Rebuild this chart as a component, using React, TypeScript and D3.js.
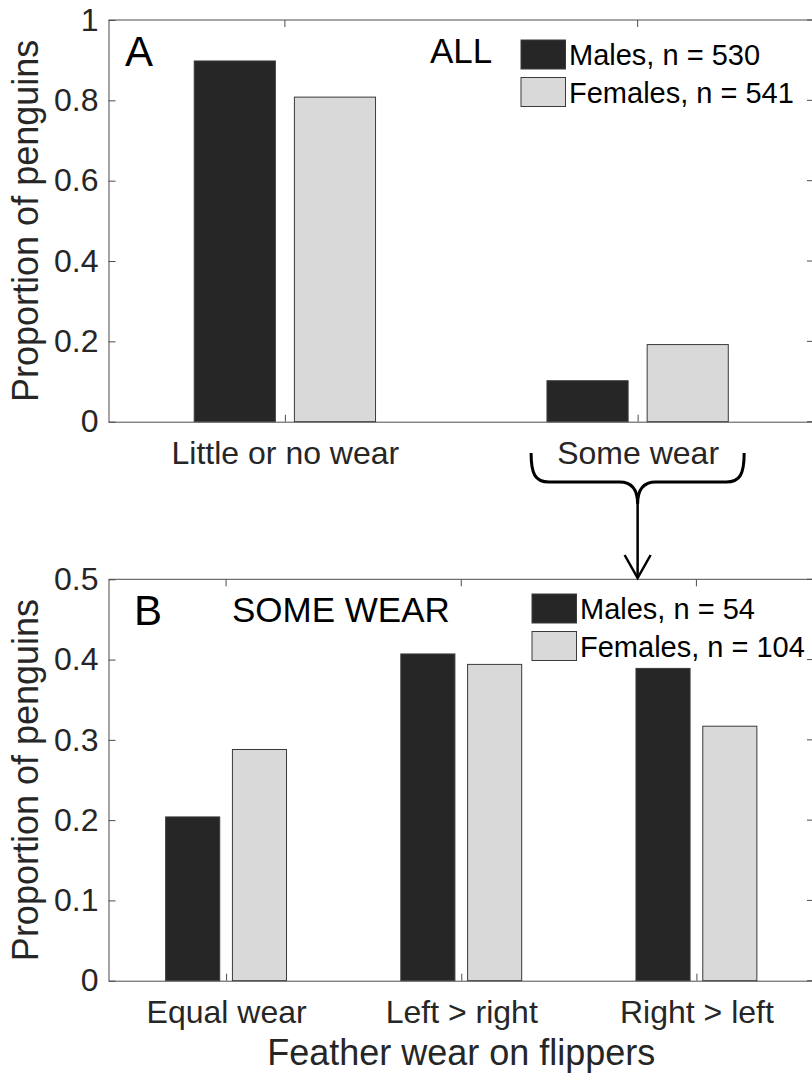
import React, { useEffect, useRef } from "react";
import * as d3 from "d3";

// panel A: all penguins
const categoriesA = ["Little or no wear", "Some wear"];
const malesA = [0.898, 0.102];
const femalesA = [0.808, 0.192];
const ticksA = [0, 0.2, 0.4, 0.6, 0.8, 1];
const legendA = ["Males, n = 530", "Females, n = 541"];

// panel B: only the ones with some wear
const categoriesB = ["Equal wear", "Left > right", "Right > left"];
const malesB = [0.204, 0.407, 0.389];
const femalesB = [0.288, 0.394, 0.317];
const ticksB = [0, 0.1, 0.2, 0.3, 0.4, 0.5];
const legendB = ["Males, n = 54", "Females, n = 104"];

const FONT = "'Liberation Sans', Arial, Helvetica, sans-serif";
const TEXT = "#262626";
const AXIS = "#4d4d4d";
const DARK = "#262626";
const LIGHT = "#d9d9d9";

const App = () => {
  const ref = useRef<SVGSVGElement>(null);

  useEffect(() => {
    const svg = d3.select(ref.current);
    svg.selectAll("*").remove();

    const left = 108.5;
    const right = 814;

    const drawPanel = (o: any) => {
      const n = o.cats.length;
      const x = d3.scaleLinear().domain([0.5, n + 0.5]).range([left, right]);
      const y = d3.scaleLinear().domain([0, o.max]).range([o.bottom, o.top]);
      const g = svg.append("g");

      // box lines (top + right, matlab "box on")
      g.append("line").attr("x1", left).attr("x2", right).attr("y1", o.top).attr("y2", o.top)
        .attr("stroke", AXIS).attr("stroke-width", 1);
      g.append("line").attr("x1", right).attr("x2", right).attr("y1", o.top).attr("y2", o.bottom)
        .attr("stroke", AXIS).attr("stroke-width", 1);
      o.cats.forEach((c: string, i: number) => {
        g.append("line").attr("x1", x(i + 1)).attr("x2", x(i + 1)).attr("y1", o.top).attr("y2", o.top + 7)
          .attr("stroke", AXIS);
      });
      o.ticks.forEach((t: number) => {
        g.append("line").attr("x1", right).attr("x2", right - 7).attr("y1", y(t)).attr("y2", y(t))
          .attr("stroke", AXIS);
      });

      // bars
      const w = 0.23;
      const off = 0.142;
      const series = [
        { vals: o.males, dx: -off, fill: DARK },
        { vals: o.females, dx: off, fill: LIGHT },
      ];
      series.forEach(s => {
        g.selectAll(null)
          .data(s.vals)
          .enter()
          .append("rect")
          .attr("x", (d: any, i: number) => x(i + 1 + s.dx - w / 2))
          .attr("width", x(1 + w) - x(1))
          .attr("y", (d: any) => y(d))
          .attr("height", (d: any) => y(0) - y(d))
          .attr("fill", s.fill)
          .attr("stroke", "#3a3a3a")
          .attr("stroke-width", 1);
      });

      // axes
      const ya = g.append("g")
        .attr("transform", `translate(${left},0)`)
        .call(d3.axisLeft(y).tickValues(o.ticks).tickFormat((d: any) => String(d))
          .tickSizeInner(-7).tickSizeOuter(0).tickPadding(10));
      const xa = g.append("g")
        .attr("transform", `translate(0,${o.bottom})`)
        .call(d3.axisBottom(x).tickValues(d3.range(1, n + 1)).tickFormat((d: any) => o.cats[d - 1])
          .tickSizeInner(-7).tickSizeOuter(0).tickPadding(20));
      [ya, xa].forEach(a => {
        a.select(".domain").attr("stroke", AXIS);
        a.selectAll(".tick line").attr("stroke", AXIS);
        a.selectAll("text").attr("fill", TEXT).attr("font-family", FONT).attr("font-size", 32);
      });
      xa.selectAll("text").attr("dy", "0.71em");

      // y label
      g.append("text")
        .attr("transform", `translate(38,${(o.top + o.bottom) / 2}) rotate(-90)`)
        .attr("text-anchor", "middle")
        .attr("font-family", FONT).attr("font-size", 36).attr("fill", TEXT)
        .text("Proportion of penguins");

      // panel letter + title
      g.append("text").attr("x", o.letterX).attr("y", o.top + 46)
        .attr("font-family", FONT).attr("font-size", 42).attr("fill", "#000").text(o.letter);
      g.append("text").attr("x", o.titleX).attr("y", o.top + 43)
        .attr("font-family", FONT).attr("font-size", 35).attr("fill", "#000").text(o.title);

      // legend
      o.legend.forEach((lab: string, i: number) => {
        const ly = o.legY + i * 37.5;
        g.append("rect").attr("x", o.legX).attr("y", ly).attr("width", 44.5).attr("height", 29)
          .attr("fill", i === 0 ? DARK : LIGHT).attr("stroke", "#3a3a3a").attr("stroke-width", 1);
        g.append("text").attr("x", o.legX + 48).attr("y", ly + 25)
          .attr("font-family", FONT).attr("font-size", 29).attr("fill", "#000").text(lab);
      });

      return { x, y };
    };

    const pa = drawPanel({
      cats: categoriesA, males: malesA, females: femalesA, ticks: ticksA, max: 1,
      top: 20, bottom: 421.7, letter: "A", letterX: 125, title: "ALL", titleX: 430,
      legend: legendA, legX: 521, legY: 40,
    });

    drawPanel({
      cats: categoriesB, males: malesB, females: femalesB, ticks: ticksB, max: 0.5,
      top: 579.3, bottom: 980.7, letter: "B", letterX: 134, title: "SOME WEAR", titleX: 232,
      legend: legendB, legX: 532, legY: 594,
    });

    // x label
    svg.append("text")
      .attr("x", (left + right) / 2).attr("y", 1065)
      .attr("text-anchor", "middle")
      .attr("font-family", FONT).attr("font-size", 36).attr("fill", TEXT)
      .text("Feather wear on flippers");

    // brace under "Some wear" with arrow down to panel B
    const cx = pa.x(2);
    const L = pa.x(2 - 0.302);
    const R = pa.x(2 + 0.302);
    const y0 = 453, yh = 482, yc = 504, yTip = 578;
    const brace = `M${L},${y0} C${L},${yh - 8} ${L + 4},${yh} ${L + 18},${yh} L${cx - 18},${yh} C${cx - 6},${yh} ${cx},${yh + 8} ${cx},${yc} C${cx},${yh + 8} ${cx + 6},${yh} ${cx + 18},${yh} L${R - 18},${yh} C${R - 4},${yh} ${R},${yh - 8} ${R},${y0}`;
    svg.append("path").attr("d", brace).attr("fill", "none").attr("stroke", "#000").attr("stroke-width", 3);
    svg.append("line").attr("x1", cx).attr("x2", cx).attr("y1", yc).attr("y2", yTip)
      .attr("stroke", "#000").attr("stroke-width", 2.5);
    svg.append("path").attr("d", `M${cx - 13},${yTip - 23} L${cx},${yTip} L${cx + 13},${yTip - 23}`)
      .attr("fill", "none").attr("stroke", "#000").attr("stroke-width", 2.5);
  }, []);

  return (
    <svg ref={ref} width={812} height={1074}
      style={{ position: "absolute", left: 0, top: 0, background: "#fff" }} />
  );
};

export default App;
